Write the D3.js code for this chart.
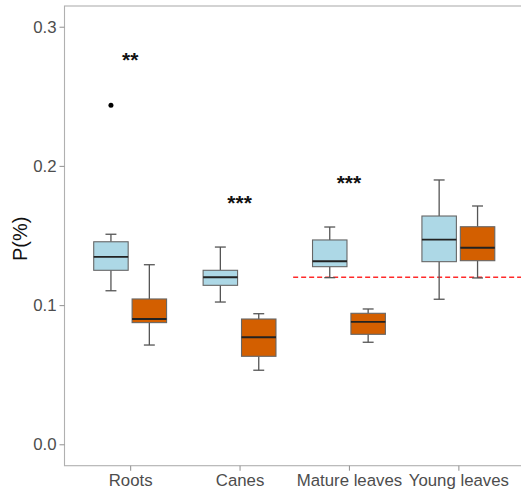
<!DOCTYPE html>
<html><head><meta charset="utf-8">
<script src="https://cdn.jsdelivr.net/npm/d3@7"></script>
<style>body{margin:0;background:#fff}svg{display:block}</style>
</head><body>
<svg id="c" width="521" height="492"></svg>
<script>
const categories = ["Roots","Canes","Mature leaves","Young leaves"];
// [whiskerLow, q1, median, q3, whiskerHigh]
const groupA = [
  [0.1103,0.1250,0.1346,0.1455,0.1509],
  [0.1022,0.1142,0.1200,0.1250,0.1417],
  [0.1197,0.1276,0.1315,0.1468,0.1561],
  [0.1042,0.1312,0.1470,0.1640,0.1899]
];
const groupB = [
  [0.0713,0.0874,0.0900,0.1044,0.1290],
  [0.0532,0.0632,0.0769,0.0900,0.0938],
  [0.0733,0.0790,0.0879,0.0941,0.0972],
  [0.1195,0.1319,0.1412,0.1563,0.1712]
];
const outliersA = [[0,0.2435]];
const sigLabels = ["**","***","***",""];
const sigY = [0.278,0.1755,0.190,null];
const refLine = 0.12;
const yTicks = [0.0,0.1,0.2,0.3];

const svg = d3.select("#c");
const L=64.5, R=524, T=6, B=465.7;
const x = d3.scaleLinear().domain([0.4,4.6]).range([L,R]);
const y = d3.scaleLinear().domain([-0.0154,0.3149]).range([B,T]);
const font = "'Liberation Sans', Arial, sans-serif";
const off = 0.1755, bw = 0.315, cw = 0.1;

// panel border
svg.append("rect").attr("x",L).attr("y",T).attr("width",R-L).attr("height",B-T)
  .attr("fill","none").attr("stroke","#b0b0b0").attr("stroke-width",1.1);

// axes
const ya = svg.append("g").attr("transform",`translate(${L},0)`)
  .call(d3.axisLeft(y).tickValues(yTicks).tickFormat(d3.format(".1f")).tickSize(5).tickPadding(3));
const xa = svg.append("g").attr("transform",`translate(0,${B})`)
  .call(d3.axisBottom(x).tickValues([1,2,3,4]).tickFormat((d,i)=>categories[i]).tickSize(5).tickPadding(3));
[ya,xa].forEach(g=>{
  g.select(".domain").remove();
  g.selectAll(".tick line").attr("stroke","#999").attr("stroke-width",1.1);
  g.selectAll(".tick text").attr("fill","#4d4d4d").style("font-family",font).style("font-size","16.8px");
});

// dashed reference line
svg.append("line").attr("x1",x(2.49)).attr("x2",R).attr("y1",y(refLine)).attr("y2",y(refLine))
  .attr("stroke","#ff2a2a").attr("stroke-width",1.5).attr("stroke-dasharray","5,3");

function drawBox(s, cx, fill){
  const g = svg.append("g");
  const stroke="#555";
  g.append("line").attr("x1",x(cx)).attr("x2",x(cx)).attr("y1",y(s[3])).attr("y2",y(s[4])).attr("stroke",stroke).attr("stroke-width",1.3);
  g.append("line").attr("x1",x(cx)).attr("x2",x(cx)).attr("y1",y(s[1])).attr("y2",y(s[0])).attr("stroke",stroke).attr("stroke-width",1.3);
  g.append("line").attr("x1",x(cx-cw/2)).attr("x2",x(cx+cw/2)).attr("y1",y(s[4])).attr("y2",y(s[4])).attr("stroke",stroke).attr("stroke-width",1.3);
  g.append("line").attr("x1",x(cx-cw/2)).attr("x2",x(cx+cw/2)).attr("y1",y(s[0])).attr("y2",y(s[0])).attr("stroke",stroke).attr("stroke-width",1.3);
  g.append("rect").attr("x",x(cx-bw/2)).attr("width",x(cx+bw/2)-x(cx-bw/2))
    .attr("y",y(s[3])).attr("height",y(s[1])-y(s[3])).attr("fill",fill).attr("stroke","#666").attr("stroke-width",1.1);
  g.append("line").attr("x1",x(cx-bw/2)).attr("x2",x(cx+bw/2)).attr("y1",y(s[2])).attr("y2",y(s[2])).attr("stroke","#222").attr("stroke-width",1.8);
}
groupA.forEach((s,i)=>drawBox(s,i+1-off,"#ADD8E6"));
groupB.forEach((s,i)=>drawBox(s,i+1+off,"#D35F00"));

outliersA.forEach(([i,v])=>svg.append("circle").attr("cx",x(i+1-off)).attr("cy",y(v)).attr("r",2.5).attr("fill","#000"));

sigLabels.forEach((t,i)=>{
  if(!t) return;
  svg.append("text").attr("x",x(i+1)).attr("y",y(sigY[i])+10).attr("text-anchor","middle")
    .style("font-family",font).style("font-size","21px").style("font-weight","bold").attr("fill","#111").text(t);
});

svg.append("text").attr("transform",`translate(27,${(T+B)/2+3}) rotate(-90)`).attr("text-anchor","middle")
  .style("font-family",font).style("font-size","20px").attr("fill","#111").text("P(%)");
</script>
</body></html>
